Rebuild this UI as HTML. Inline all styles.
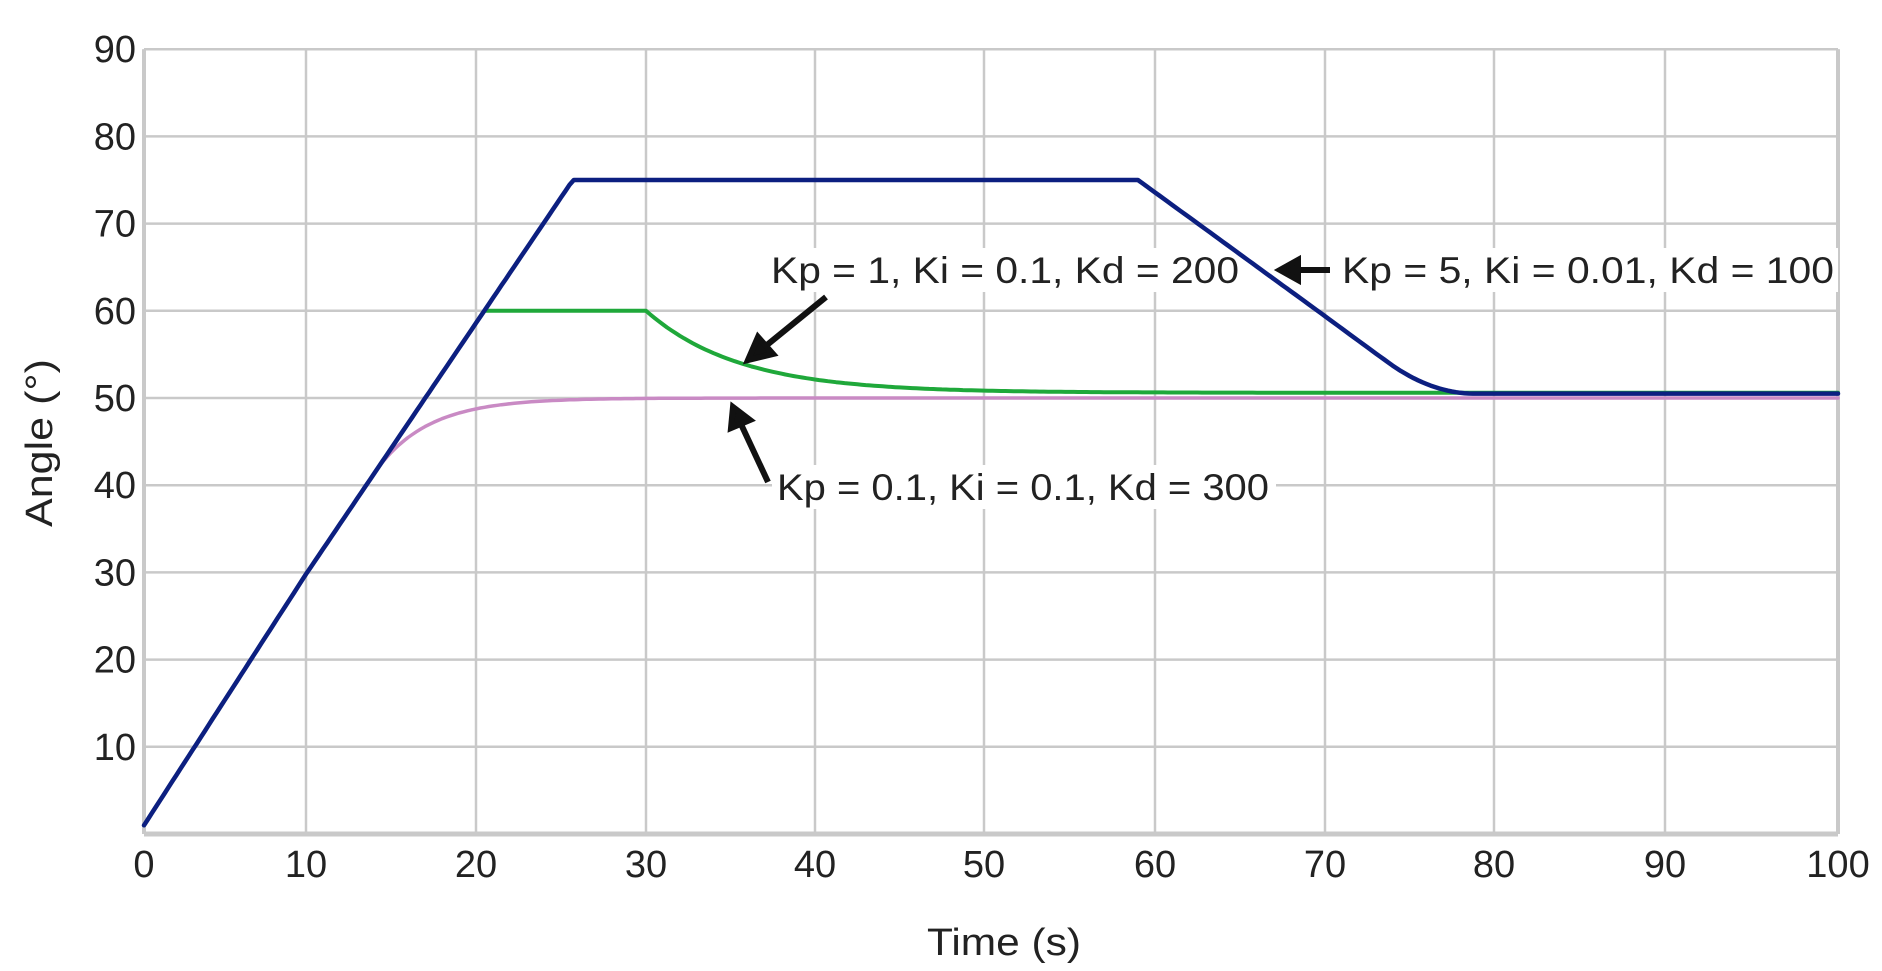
<!DOCTYPE html>
<html><head><meta charset="utf-8"><style>
html,body{margin:0;padding:0;background:#fff;}
svg{display:block;}
text{font-family:"Liberation Sans",sans-serif;fill:#222;}
</style></head><body>
<svg id="s" width="1882" height="971" viewBox="0 0 1882 971" xmlns="http://www.w3.org/2000/svg">
<g id="grid" stroke="#c9c9c9" stroke-width="2.5"></g>
<rect x="762" y="248" width="480" height="44" fill="#fff"/>
<rect x="1338" y="248" width="500" height="44" fill="#fff"/>
<rect x="772" y="465" width="504" height="44" fill="#fff"/>
<g id="series" fill="none" stroke-linejoin="round" stroke-linecap="round"></g>
<g id="labels" font-size="38"></g>
<text x="1004" y="955" font-size="38" text-anchor="middle" textLength="154" lengthAdjust="spacingAndGlyphs">Time (s)</text>
<text transform="translate(52,443) rotate(-90)" font-size="38" text-anchor="middle" textLength="168" lengthAdjust="spacingAndGlyphs">Angle (°)</text>
<text x="771" y="283" font-size="37" textLength="468" lengthAdjust="spacingAndGlyphs">Kp = 1,  Ki = 0.1,  Kd = 200</text>
<text x="1342" y="283" font-size="37" textLength="492" lengthAdjust="spacingAndGlyphs">Kp = 5,  Ki = 0.01,  Kd = 100</text>
<text x="777" y="500" font-size="37" textLength="492" lengthAdjust="spacingAndGlyphs">Kp = 0.1,  Ki = 0.1, Kd = 300</text>
<g stroke="#111" stroke-width="6" fill="#111">
<line x1="826" y1="297" x2="762" y2="349"/>
<polygon points="748,360 758,337 773,354"/>
<line x1="1330" y1="270" x2="1295" y2="270"/>
<polygon points="1280,270 1298,260 1298,280"/>
<line x1="768" y1="482" x2="740" y2="422"/>
<polygon points="733,407 731,428 750,420"/>
</g>
</svg>
<script>
var gx=[144,306,476,646,815,984,1155,1325,1494,1665,1838];
function X(t){var i=Math.min(9,Math.floor(t/10));return gx[i]+(gx[i+1]-gx[i])*(t-i*10)/10;}
function Y(v){return 834-8.72*v;}
var NS="http://www.w3.org/2000/svg";
function el(p,n,a){var e=document.createElementNS(NS,n);for(var k in a)e.setAttribute(k,a[k]);p.appendChild(e);return e;}
var g=document.getElementById('grid'),lb=document.getElementById('labels'),sr=document.getElementById('series');
for(var i=0;i<=10;i++){el(g,'line',{x1:gx[i],y1:Y(90),x2:gx[i],y2:Y(0)});
 var t=el(lb,'text',{x:gx[i],y:877,'text-anchor':'middle'});t.textContent=i*10;}
for(var v=10;v<=90;v+=10){el(g,'line',{x1:gx[0],y1:Y(v),x2:gx[10],y2:Y(v)});
 var t=el(lb,'text',{x:136,y:Y(v)+13,'text-anchor':'end'});t.textContent=v;}
el(g,'line',{x1:gx[0],y1:Y(0),x2:gx[10],y2:Y(0),'stroke-width':5});
el(g,'line',{x1:gx[0],y1:Y(0),x2:gx[0],y2:Y(90),'stroke-width':4});
el(g,'line',{x1:gx[10],y1:Y(0),x2:gx[10],y2:Y(90),'stroke-width':4});
var sl=2.88;function ramp(t){return 1+sl*t;}
function path(f,col,w){var d='';for(var t=0;t<=100;t+=0.25){d+=(t?'L':'M')+X(t).toFixed(1)+','+Y(f(t)).toFixed(1);}el(sr,'path',{d:d,stroke:col,'stroke-width':w});}
path(function(t){var a=14.2;var ya=ramp(a);if(t<a)return ramp(t);return 50-(50-ya)*Math.exp(-(t-a)/3.1);},'#c98ac4',3.5);
var tg=(60-1)/sl;
path(function(t){if(t<tg)return ramp(t);if(t<30)return 60;return 50.6+9.4*Math.exp(-(t-30)/5.5);},'#1fa83a',4);
var s=1.42,tl=59+24.5/s,h=2.6;
path(function(t){if(t<25.7)return ramp(t);if(t<59)return 75;
 var lin=75-s*(t-59);
 if(t<tl-h)return lin;
 if(t<tl+h){var u=t-(tl-h);return (75-s*(tl-h-59)) - s*u + s*u*u/(4*h);}
 return 50.5;},'#0c1f80',4.5);
</script>
</body></html>
